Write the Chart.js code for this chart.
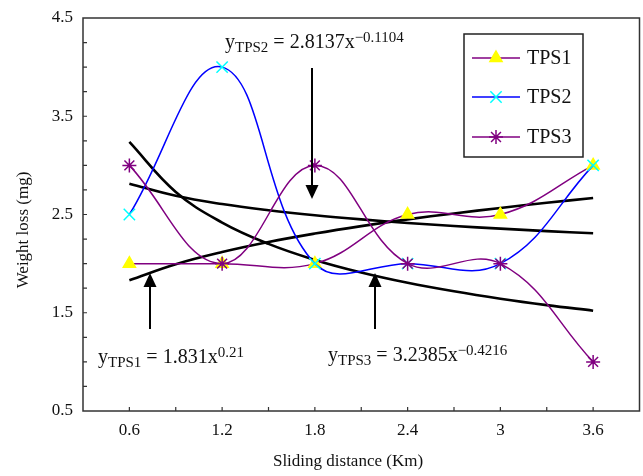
<!DOCTYPE html>
<html>
<head>
<meta charset="utf-8">
<script src="https://cdn.jsdelivr.net/npm/chart.js@4.4.7/dist/chart.umd.min.js"></script>
<style>
  html, body { margin: 0; padding: 0; background: #fff; overflow: hidden; }
  canvas { display: block; }
</style>
</head>
<body>
<canvas id="c" width="649" height="476"></canvas>
<script>
// measured data
const distance = [0.6, 1.2, 1.8, 2.4, 3.0, 3.6];
const tps1 = [2, 2, 2, 2.5, 2.5, 3];
const tps2 = [2.5, 4, 2, 2, 2, 3];
const tps3 = [3, 2, 3, 2, 2, 1];

// power-law trend lines
const fitX = [0.6, 0.9, 1.2, 1.5, 1.8, 2.1, 2.4, 2.7, 3.0, 3.3, 3.6];
const fit1 = [1.831, 1.994, 2.118, 2.220, 2.306, 2.382, 2.450, 2.511, 2.567, 2.619, 2.668];
const fit2 = [2.814, 2.690, 2.606, 2.543, 2.492, 2.450, 2.414, 2.383, 2.356, 2.331, 2.309];
const fit3 = [3.239, 2.730, 2.418, 2.201, 2.038, 1.910, 1.805, 1.718, 1.643, 1.578, 1.521];

const xLabels = [0.6, 1.2, 1.8, 2.4, 3, 3.6];
const yLabels = [0.5, 1.5, 2.5, 3.5, 4.5];

const FONT = '"Liberation Serif", "Times New Roman", serif';
const PURPLE = '#800080';

const pts = (xs, ys) => xs.map((x, i) => ({ x: x, y: ys[i] }));

function fitSet(ys) {
  return {
    data: pts(fitX, ys),
    borderColor: '#000',
    borderWidth: 2.6,
    pointRadius: 0,
    tension: 0.4,
    fill: false,
    order: 5
  };
}

const series = [
  { label: 'TPS1', data: pts(distance, tps1), borderColor: PURPLE, pointStyle: 'triangle',
    pointBackgroundColor: '#ffff00', pointBorderColor: '#ffff00', pointRadius: 7, order: 3 },
  { label: 'TPS2', data: pts(distance, tps2), borderColor: '#0000ff', pointStyle: 'crossRot',
    pointBackgroundColor: '#00ffff', pointBorderColor: '#00ffff', pointRadius: 8, order: 2 },
  { label: 'TPS3', data: pts(distance, tps3), borderColor: PURPLE, pointStyle: 'star',
    pointBackgroundColor: PURPLE, pointBorderColor: PURPLE, pointRadius: 7, order: 1 }
];
series.forEach(s => {
  s.borderWidth = 1.5;
  s.pointBorderWidth = 1.5;
  s.tension = 0.4;
  s.fill = false;
});

function drawEq(ctx, x, y, parts) {
  ctx.fillStyle = '#111';
  ctx.textBaseline = 'alphabetic';
  ctx.textAlign = 'left';
  parts.forEach(p => {
    const size = p[1] === 'm' ? 20 : 15;
    const dy = p[1] === 's' ? 4 : (p[1] === 'p' ? -6 : 0);
    ctx.font = size + 'px ' + FONT;
    ctx.fillText(p[0], x, y + dy);
    x += ctx.measureText(p[0]).width;
  });
}

function arrow(ctx, x, y0, y1) {
  // y1 is the tip
  const dir = y1 > y0 ? 1 : -1;
  ctx.strokeStyle = '#000';
  ctx.fillStyle = '#000';
  ctx.lineWidth = 2;
  ctx.beginPath();
  ctx.moveTo(x, y0);
  ctx.lineTo(x, y1 - dir * 12);
  ctx.stroke();
  ctx.beginPath();
  ctx.moveTo(x, y1);
  ctx.lineTo(x - 6.5, y1 - dir * 14);
  ctx.lineTo(x + 6.5, y1 - dir * 14);
  ctx.closePath();
  ctx.fill();
}

const extras = {
  id: 'extras',
  afterDatasetsDraw(chart) {
    const ctx = chart.ctx;
    const a = chart.chartArea;
    const xs = chart.scales.x, ys = chart.scales.y;
    ctx.save();

    // frame
    ctx.strokeStyle = '#333';
    ctx.lineWidth = 1.5;
    ctx.strokeRect(a.left, a.top, a.right - a.left, a.bottom - a.top);

    // inward ticks
    ctx.lineWidth = 1.2;
    ctx.beginPath();
    xs.ticks.forEach(t => {
      const px = xs.getPixelForValue(t.value);
      if (px <= a.left + 1 || px >= a.right - 1) return;
      ctx.moveTo(px, a.bottom);
      ctx.lineTo(px, a.bottom - 4);
    });
    ys.ticks.forEach(t => {
      const py = ys.getPixelForValue(t.value);
      if (py <= a.top + 1 || py >= a.bottom - 1) return;
      ctx.moveTo(a.left, py);
      ctx.lineTo(a.left + 4, py);
    });
    ctx.stroke();

    // axis titles
    ctx.fillStyle = '#111';
    ctx.font = '17px ' + FONT;
    ctx.textAlign = 'center';
    ctx.textBaseline = 'middle';
    ctx.fillText('Sliding distance (Km)', 348, 462);
    ctx.save();
    ctx.translate(24, 230);
    ctx.rotate(-Math.PI / 2);
    ctx.fillText('Weight loss (mg)', 0, 0);
    ctx.restore();

    // equations and arrows
    drawEq(ctx, 225, 48, [['y', 'm'], ['TPS2', 's'], [' = 2.8137x', 'm'], ['\u22120.1104', 'p']]);
    drawEq(ctx, 98, 363, [['y', 'm'], ['TPS1', 's'], [' = 1.831x', 'm'], ['0.21', 'p']]);
    drawEq(ctx, 328, 361, [['y', 'm'], ['TPS3', 's'], [' = 3.2385x', 'm'], ['\u22120.4216', 'p']]);
    arrow(ctx, 312, 68, 199);
    arrow(ctx, 150, 329, 273);
    arrow(ctx, 375, 329, 273);

    // legend box
    const lx = 464, ly = 34, lw = 119, lh = 123;
    ctx.fillStyle = '#fff';
    ctx.fillRect(lx, ly, lw, lh);
    ctx.strokeStyle = '#222';
    ctx.lineWidth = 1.5;
    ctx.strokeRect(lx, ly, lw, lh);
    const rows = [58, 97, 137];
    series.forEach((s, i) => {
      const y = rows[i];
      ctx.strokeStyle = s.borderColor;
      ctx.lineWidth = 1.5;
      ctx.beginPath();
      ctx.moveTo(472, y);
      ctx.lineTo(520, y);
      ctx.stroke();
      ctx.fillStyle = s.pointBackgroundColor;
      ctx.strokeStyle = s.pointBorderColor;
      Chart.helpers.drawPoint(ctx, {
        pointStyle: s.pointStyle, radius: s.pointRadius, rotation: 0, borderWidth: 1.5
      }, 496, y);
      ctx.fillStyle = '#111';
      ctx.font = '20px ' + FONT;
      ctx.textAlign = 'left';
      ctx.textBaseline = 'middle';
      ctx.fillText(s.label, 527, y + 1);
    });

    ctx.restore();
  }
};

new Chart(document.getElementById('c'), {
  type: 'line',
  data: {
    datasets: series.concat([fitSet(fit1), fitSet(fit2), fitSet(fit3)])
  },
  options: {
    responsive: false,
    animation: false,
    devicePixelRatio: 1,
    layout: { padding: { top: 18, right: 4, left: 0, bottom: 0 } },
    plugins: { legend: { display: false }, tooltip: { enabled: false } },
    scales: {
      x: {
        type: 'linear',
        min: 0.3,
        max: 3.9,
        grid: { display: false, drawTicks: true, tickLength: 9 },
        border: { display: false },
        ticks: {
          stepSize: 0.3,
          padding: 0,
          maxRotation: 0,
          autoSkip: false,
          color: '#111',
          font: { family: FONT, size: 17 },
          callback: v => {
            const hit = xLabels.find(l => Math.abs(l - v) < 1e-6);
            return hit === undefined ? '' : String(hit);
          }
        },
        afterFit: s => { s.height = 65; }
      },
      y: {
        min: 0.5,
        max: 4.5,
        grid: { display: false, drawTicks: true, tickLength: 10 },
        border: { display: false },
        ticks: {
          stepSize: 0.25,
          padding: 0,
          autoSkip: false,
          color: '#111',
          font: { family: FONT, size: 17 },
          callback: v => {
            const hit = yLabels.find(l => Math.abs(l - v) < 1e-6);
            return hit === undefined ? '' : hit.toFixed(1);
          }
        },
        afterFit: s => { s.width = 83; }
      }
    }
  },
  plugins: [extras]
});
</script>
</body>
</html>
